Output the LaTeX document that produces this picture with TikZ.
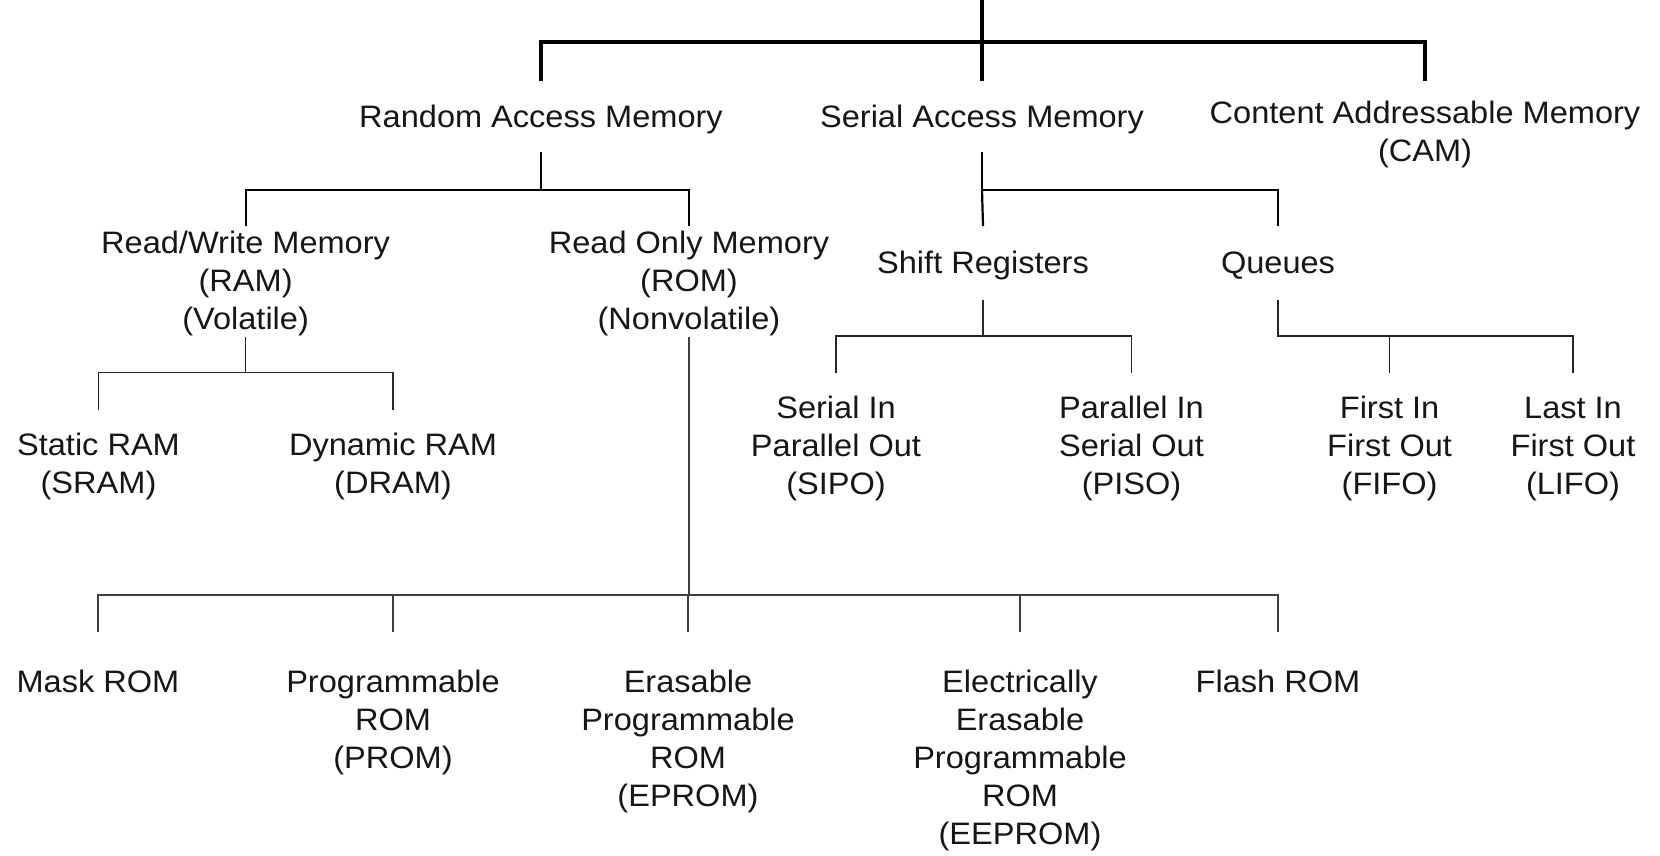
\documentclass[tikz,border=0pt]{standalone}
\usepackage{fontspec}
\setmainfont[FakeStretch=1.05]{Liberation Sans}
\definecolor{ink}{RGB}{22,22,22}
\begin{document}
\begin{tikzpicture}[x=0.5pt,y=-0.5pt,
  lbl/.style={font=\fontsize{15.5}{19}\selectfont, align=center, inner sep=0pt, anchor=base, text=ink},
  lv0/.style={line width=1.7pt, draw=black},
  lv1/.style={line width=1.1pt, draw=black},
  lv2/.style={line width=0.7pt, draw=black!85},
  lv3/.style={line width=0.9pt, draw=black!75}]
\fill[white] (0,0) rectangle (1660,856);
\useasboundingbox (0,0) rectangle (1660,856);

% ---- labels (placed at the baseline of their last line) ----
\node[lbl] (ram)    at (541,127)   {Random Access Memory};
\node[lbl] (sam)    at (982,127)   {Serial Access Memory};
\node[lbl] (cam)    at (1425,162)  {Content Addressable Memory\\(CAM)};

\node[lbl] (rw)     at (245.6,329) {Read/Write Memory\\(RAM)\\(Volatile)};
\node[lbl] (rom)    at (689,329)   {Read Only Memory\\(ROM)\\(Nonvolatile)};
\node[lbl] (shift)  at (983,273.3)   {Shift Registers};
\node[lbl] (queues) at (1278,273.3)  {Queues};

\node[lbl] (sram)   at (98.5,493.5)  {Static RAM\\(SRAM)};
\node[lbl] (dram)   at (393,493.5)   {Dynamic RAM\\(DRAM)};
\node[lbl] (sipo)   at (836,494)     {Serial In\\Parallel Out\\(SIPO)};
\node[lbl] (piso)   at (1131.5,494)  {Parallel In\\Serial Out\\(PISO)};
\node[lbl] (fifo)   at (1389.6,494)  {First In\\First Out\\(FIFO)};
\node[lbl] (lifo)   at (1573,494)    {Last In\\First Out\\(LIFO)};

\node[lbl] (mask)   at (98,692)      {Mask ROM};
\node[lbl] (prom)   at (393,768)     {Programmable\\ROM\\(PROM)};
\node[lbl] (eprom)  at (688,806)     {Erasable\\Programmable\\ROM\\(EPROM)};
\node[lbl] (eeprom) at (1020,844)    {Electrically\\Erasable\\Programmable\\ROM\\(EEPROM)};
\node[lbl] (flash)  at (1278,692)    {Flash ROM};

% ---- bus levels ----
\coordinate (top)     at (982,0);
\coordinate (bus0)    at (0,42);
\coordinate (end0)    at (0,81);
\coordinate (stem1)   at (0,152);
\coordinate (bus1)    at (0,190);
\coordinate (end1)    at (0,226);
\coordinate (stemrw)  at (0,337);
\coordinate (busrw)   at (0,372.7);
\coordinate (endrw)   at (0,410);
\coordinate (busrom)  at (0,595);
\coordinate (endrom)  at (0,632);
\coordinate (stemsq)  at (0,300);
\coordinate (bussq)   at (0,336);
\coordinate (endsq)   at (0,373);

% ---- top level ----
\draw[lv0] (top) -- (sam.north |- end0);
\draw[lv0] (ram.north |- end0) -- (ram.north |- bus0) -- (cam.north |- bus0) -- (cam.north |- end0);

% ---- random access memory ----
\draw[lv1] (ram.north |- stem1) -- (ram.north |- bus1);
\draw[lv1] (rw.north |- end1) -- (rw.north |- bus1) -- (rom.north |- bus1) -- (rom.north |- end1);

% ---- serial access memory ----
\draw[lv1] (sam.north |- stem1) -- (sam.north |- bus1) -- (queues.north |- bus1) -- (queues.north |- end1);
\draw[lv1] (sam.north |- bus1) -- (shift.north |- end1);

% ---- read/write memory ----
\draw[lv2] (rw.north |- stemrw) -- (rw.north |- busrw);
\draw[lv2] (sram.north |- endrw) -- (sram.north |- busrw) -- (dram.north |- busrw) -- (dram.north |- endrw);

% ---- read only memory ----
\draw[lv3] (rom.north |- stemrw) -- (rom.north |- busrom);
\draw[lv3] (mask.north |- endrom) -- (mask.north |- busrom) -- (flash.north |- busrom) -- (flash.north |- endrom);
\draw[lv3] (prom.north |- busrom) -- (prom.north |- endrom);
\draw[lv3] (eprom.north |- busrom) -- (eprom.north |- endrom);
\draw[lv3] (eeprom.north |- busrom) -- (eeprom.north |- endrom);

% ---- shift registers ----
\draw[lv2] (shift.north |- stemsq) -- (shift.north |- bussq);
\draw[lv2] (sipo.north |- endsq) -- (sipo.north |- bussq) -- (piso.north |- bussq) -- (piso.north |- endsq);

% ---- queues ----
\draw[lv2] (queues.north |- stemsq) -- (queues.north |- bussq) -- (lifo.north |- bussq) -- (lifo.north |- endsq);
\draw[lv2] (fifo.north |- bussq) -- (fifo.north |- endsq);
\end{tikzpicture}
\end{document}
